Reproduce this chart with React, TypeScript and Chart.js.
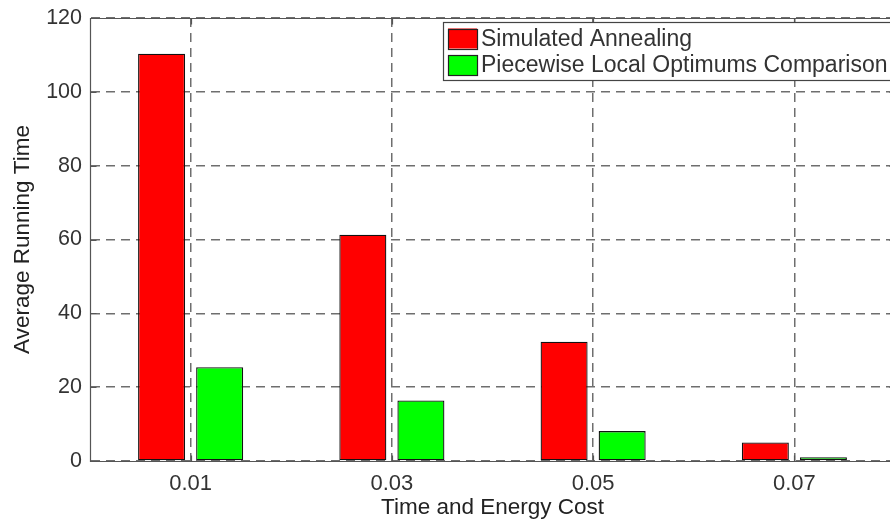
import React, { useEffect, useRef } from "react";
import { Chart, registerables } from "chart.js";

Chart.register(...registerables);

const categories = ["0.01", "0.03", "0.05", "0.07"];
const simulatedAnnealing = [110.3, 61.3, 32.3, 5.0];
const piecewiseLocal = [25.4, 16.4, 8.1, 1.0];
const yTicks = [0, 20, 40, 60, 80, 100, 120];
const seriesLabels = ["Simulated Annealing", "Piecewise Local Optimums Comparison"];
const seriesColors = ["#ff0000", "#00ff00"];
const xTitle = "Time and Energy Cost";
const yTitle = "Average Running Time";

const FONT = "'Liberation Sans', Arial, Helvetica, sans-serif";

const matlabFrame = {
  id: "matlabFrame",
  afterDraw(chart: any) {
    const { ctx, chartArea: a, scales } = chart;
    const al = (v: number) => Math.round(v) + 0.5;
    ctx.save();
    ctx.setLineDash([]);
    ctx.strokeStyle = "#555";
    ctx.lineWidth = 1.2;
    const L = al(a.left), R = al(a.right), T = al(a.top), B = al(a.bottom);
    ctx.beginPath();
    ctx.moveTo(L, T);
    ctx.lineTo(R, T);
    ctx.lineTo(R, B);
    ctx.lineTo(L, B);
    ctx.closePath();
    ctx.stroke();
    // inward ticks
    const tl = 6;
    ctx.beginPath();
    yTicks.forEach((v) => {
      const py = al(scales.y.getPixelForValue(v));
      ctx.moveTo(L, py);
      ctx.lineTo(L + tl, py);
      ctx.moveTo(R, py);
      ctx.lineTo(R - tl, py);
    });
    categories.forEach((_, i) => {
      const px = al(scales.x.getPixelForTick(i));
      ctx.moveTo(px, B);
      ctx.lineTo(px, B - tl);
      ctx.moveTo(px, T);
      ctx.lineTo(px, T + tl);
    });
    ctx.stroke();

    // legend box (MATLAB style, inside top-right)
    const boxL = a.left + 353;
    const boxT = a.top + 4;
    const boxR = a.right - 3;
    const boxB = a.top + 62;
    ctx.fillStyle = "#ffffff";
    ctx.fillRect(boxL, boxT, boxR - boxL, boxB - boxT);
    ctx.strokeStyle = "#444";
    ctx.lineWidth = 1.2;
    ctx.strokeRect(al(boxL), al(boxT), Math.round(boxR - boxL), Math.round(boxB - boxT));
    const rows = [boxT + 16.5, boxT + 43];
    chart.data.datasets.forEach((ds: any, i: number) => {
      const cy = rows[i];
      ctx.fillStyle = ds.backgroundColor;
      ctx.fillRect(boxL + 5, cy - 10, 29, 20);
      ctx.strokeStyle = "#222";
      ctx.strokeRect(al(boxL + 5), al(cy - 10), 29, 20);
      ctx.fillStyle = "#333";
      ctx.font = `23px ${FONT}`;
      ctx.textBaseline = "middle";
      ctx.textAlign = "left";
      ctx.fillText(ds.label, boxL + 38, cy + 1);
    });
    ctx.restore();
  },
};

export default function App() {
  const ref = useRef<HTMLCanvasElement | null>(null);
  useEffect(() => {
    if (!ref.current) return;
    const chart = new Chart(ref.current, {
      type: "bar",
      data: {
        labels: categories,
        datasets: [
          {
            label: seriesLabels[0],
            data: simulatedAnnealing,
            backgroundColor: seriesColors[0],
            borderColor: "#111",
            borderWidth: 1.3,
            borderSkipped: false,
            categoryPercentage: 0.577,
            barPercentage: 0.81,
          },
          {
            label: seriesLabels[1],
            data: piecewiseLocal,
            backgroundColor: seriesColors[1],
            borderColor: "#111",
            borderWidth: 1.3,
            borderSkipped: false,
            categoryPercentage: 0.577,
            barPercentage: 0.81,
          },
        ],
      },
      options: {
        responsive: false,
        animation: false,
        layout: { padding: { top: 18, right: 10, left: 0, bottom: 0 } },
        plugins: { legend: { display: false }, tooltip: { enabled: false } },
        scales: {
          x: {
            type: "category",
            grid: { offset: false, color: "#6e6e6e", lineWidth: 1.5, drawTicks: false },
            border: { color: "#555", dash: [9, 6] },
            ticks: { color: "#333", padding: 10, font: { family: FONT, size: 22 } },
            title: {
              display: true,
              text: xTitle,
              color: "#222",
              font: { family: FONT, size: 22.5 },
              padding: { top: 0, bottom: 1 },
            },
            afterFit: (s: any) => {
              s.height = 61;
              s.paddingLeft = 0;
              s.paddingRight = 0;
            },
          },
          y: {
            min: 0,
            max: 120,
            grid: { color: "#6e6e6e", lineWidth: 1.5, drawTicks: false },
            border: { color: "#555", dash: [9, 6] },
            ticks: { color: "#333", padding: 8, font: { family: FONT, size: 21.5 } },
            afterBuildTicks: (s: any) => {
              s.ticks = yTicks.map((v) => ({ value: v }));
            },
            title: {
              display: true,
              text: yTitle,
              color: "#222",
              font: { family: FONT, size: 22.5 },
              padding: { top: 9, bottom: 0 },
            },
            afterFit: (s: any) => {
              s.width = 90;
              s.paddingTop = 0;
              s.paddingBottom = 0;
            },
          },
        },
      },
      plugins: [matlabFrame],
    });
    return () => chart.destroy();
  }, []);
  return (
    <div style={{ position: "fixed", left: 0, top: 0, width: 905, height: 522, background: "#fff" }}>
      <canvas ref={ref} width={905} height={522} style={{ display: "block" }} />
    </div>
  );
}
